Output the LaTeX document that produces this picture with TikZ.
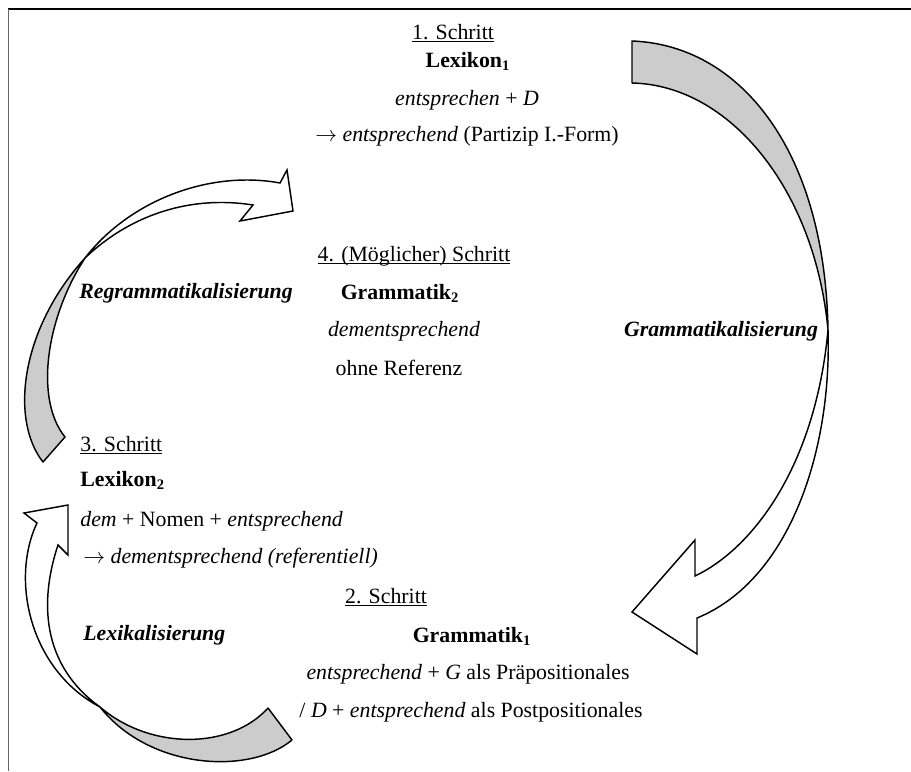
\documentclass[tikz,border=0pt]{standalone}
\usepackage{fontspec}
\setmainfont{Liberation Serif}
\usetikzlibrary{positioning}
\newcommand\unterstr[1]{\underline{\smash{#1}}}
\newcommand\pfeil{\ensuremath{\rightarrow}}

\begin{document}
\begin{tikzpicture}[x=0.55pt, y=-0.55pt,
  txt/.style={anchor=base, inner sep=0pt, font=\fontsize{12}{14}\selectfont},
  lefttxt/.style={txt, anchor=base west},
  backband/.style={draw, line width=0.8pt, fill=black!20, line join=round},
  frontband/.style={draw, line width=0.8pt, fill=white, line join=miter}]

  \useasboundingbox (0,0) rectangle (911,771);

  % frame
  \draw[line width=1.4pt] (8,9) -- (911,9);
  \draw[black!60, line width=0.5pt] (8,9) -- (8,771);

  % Grammatikalisierung arrow
  \draw[backband] (632,41) .. controls (740,45) and (825,150) .. (828,330)
    .. controls (815,190) and (730,85) .. (632,83) -- cycle;
  \draw[frontband] (828,330) .. controls (832,450) and (790,580) .. (697,618)
    -- (697,654) -- (632,612) -- (695,540) -- (695,576)
    .. controls (750,550) and (815,470) .. (828,330) -- cycle;

  % Regrammatikalisierung arrow
  \draw[backband] (43,462) .. controls (10,420) and (20,330) .. (85,258)
    .. controls (45,320) and (35,400) .. (65,437) -- cycle;
  \draw[frontband] (85,258) .. controls (130,200) and (210,170) .. (280,183)
    -- (287,170) -- (293,211) -- (240,221) -- (253,205)
    .. controls (190,195) and (130,215) .. (85,258) -- cycle;

  % Lexikalisierung arrow
  \draw[backband] (100,707) .. controls (150,750) and (230,750) .. (268,708)
    -- (292,740) .. controls (250,775) and (150,770) .. (100,707) -- cycle;
  \draw[frontband] (100,707) .. controls (30,670) and (10,580) .. (37,523)
    -- (24,513) -- (68,505) -- (68,555) -- (58,545)
    .. controls (43,590) and (35,660) .. (100,707) -- cycle;

  % 1. Schritt
  \node[txt] (s1) at (453,39) {\unterstr{1. Schritt}};
  \node[txt] (lex1) at (468,67) {\textbf{Lexikon\textsubscript{1}}};
  \node[txt] (ent) at (467,105) {\textit{entsprechen} + \textit{D}};
  \node[txt] (part) at (467,141) {\pfeil{} \textit{entsprechend} (Partizip I.-Form)};

  % 4. Schritt
  \node[txt] (s4) at (414,261) {\unterstr{4. (Möglicher) Schritt}};
  \node[txt] (gram2) at (400,299) {\textbf{Grammatik\textsubscript{2}}};
  \node[txt] (dem) at (404,336) {\textit{dementsprechend}};
  \node[txt] (ohne) at (399,375) {ohne Referenz};

  \node[txt] (regram) at (186,298) {\textbf{\textit{Regrammatikalisierung}}};
  \node[txt] (gramm) at (721,336) {\textbf{\textit{Grammatikalisierung}}};

  % 3. Schritt
  \node[lefttxt] (s3) at (80,451) {\unterstr{3. Schritt}};
  \node[lefttxt] (lex2) at (80,486) {\textbf{Lexikon\textsubscript{2}}};
  \node[lefttxt] (nomen) at (80,526) {\textit{dem} + Nomen + \textit{entsprechend}};
  \node[lefttxt] (ref) at (83,563) {\pfeil{} \textit{dementsprechend (referentiell)}};

  % 2. Schritt
  \node[txt] (s2) at (386,603) {\unterstr{2. Schritt}};
  \node[txt] (gram1) at (472,642) {\textbf{Grammatik\textsubscript{1}}};
  \node[txt] (praep) at (468,679) {\textit{entsprechend} + \textit{G} als Präpositionales};
  \node[txt] (postp) at (471,717) {/ \textit{D} + \textit{entsprechend} als Postpositionales};
  \node[lefttxt] (lexik) at (83,640) {\textbf{\textit{Lexikalisierung}}};
\end{tikzpicture}
\end{document}
